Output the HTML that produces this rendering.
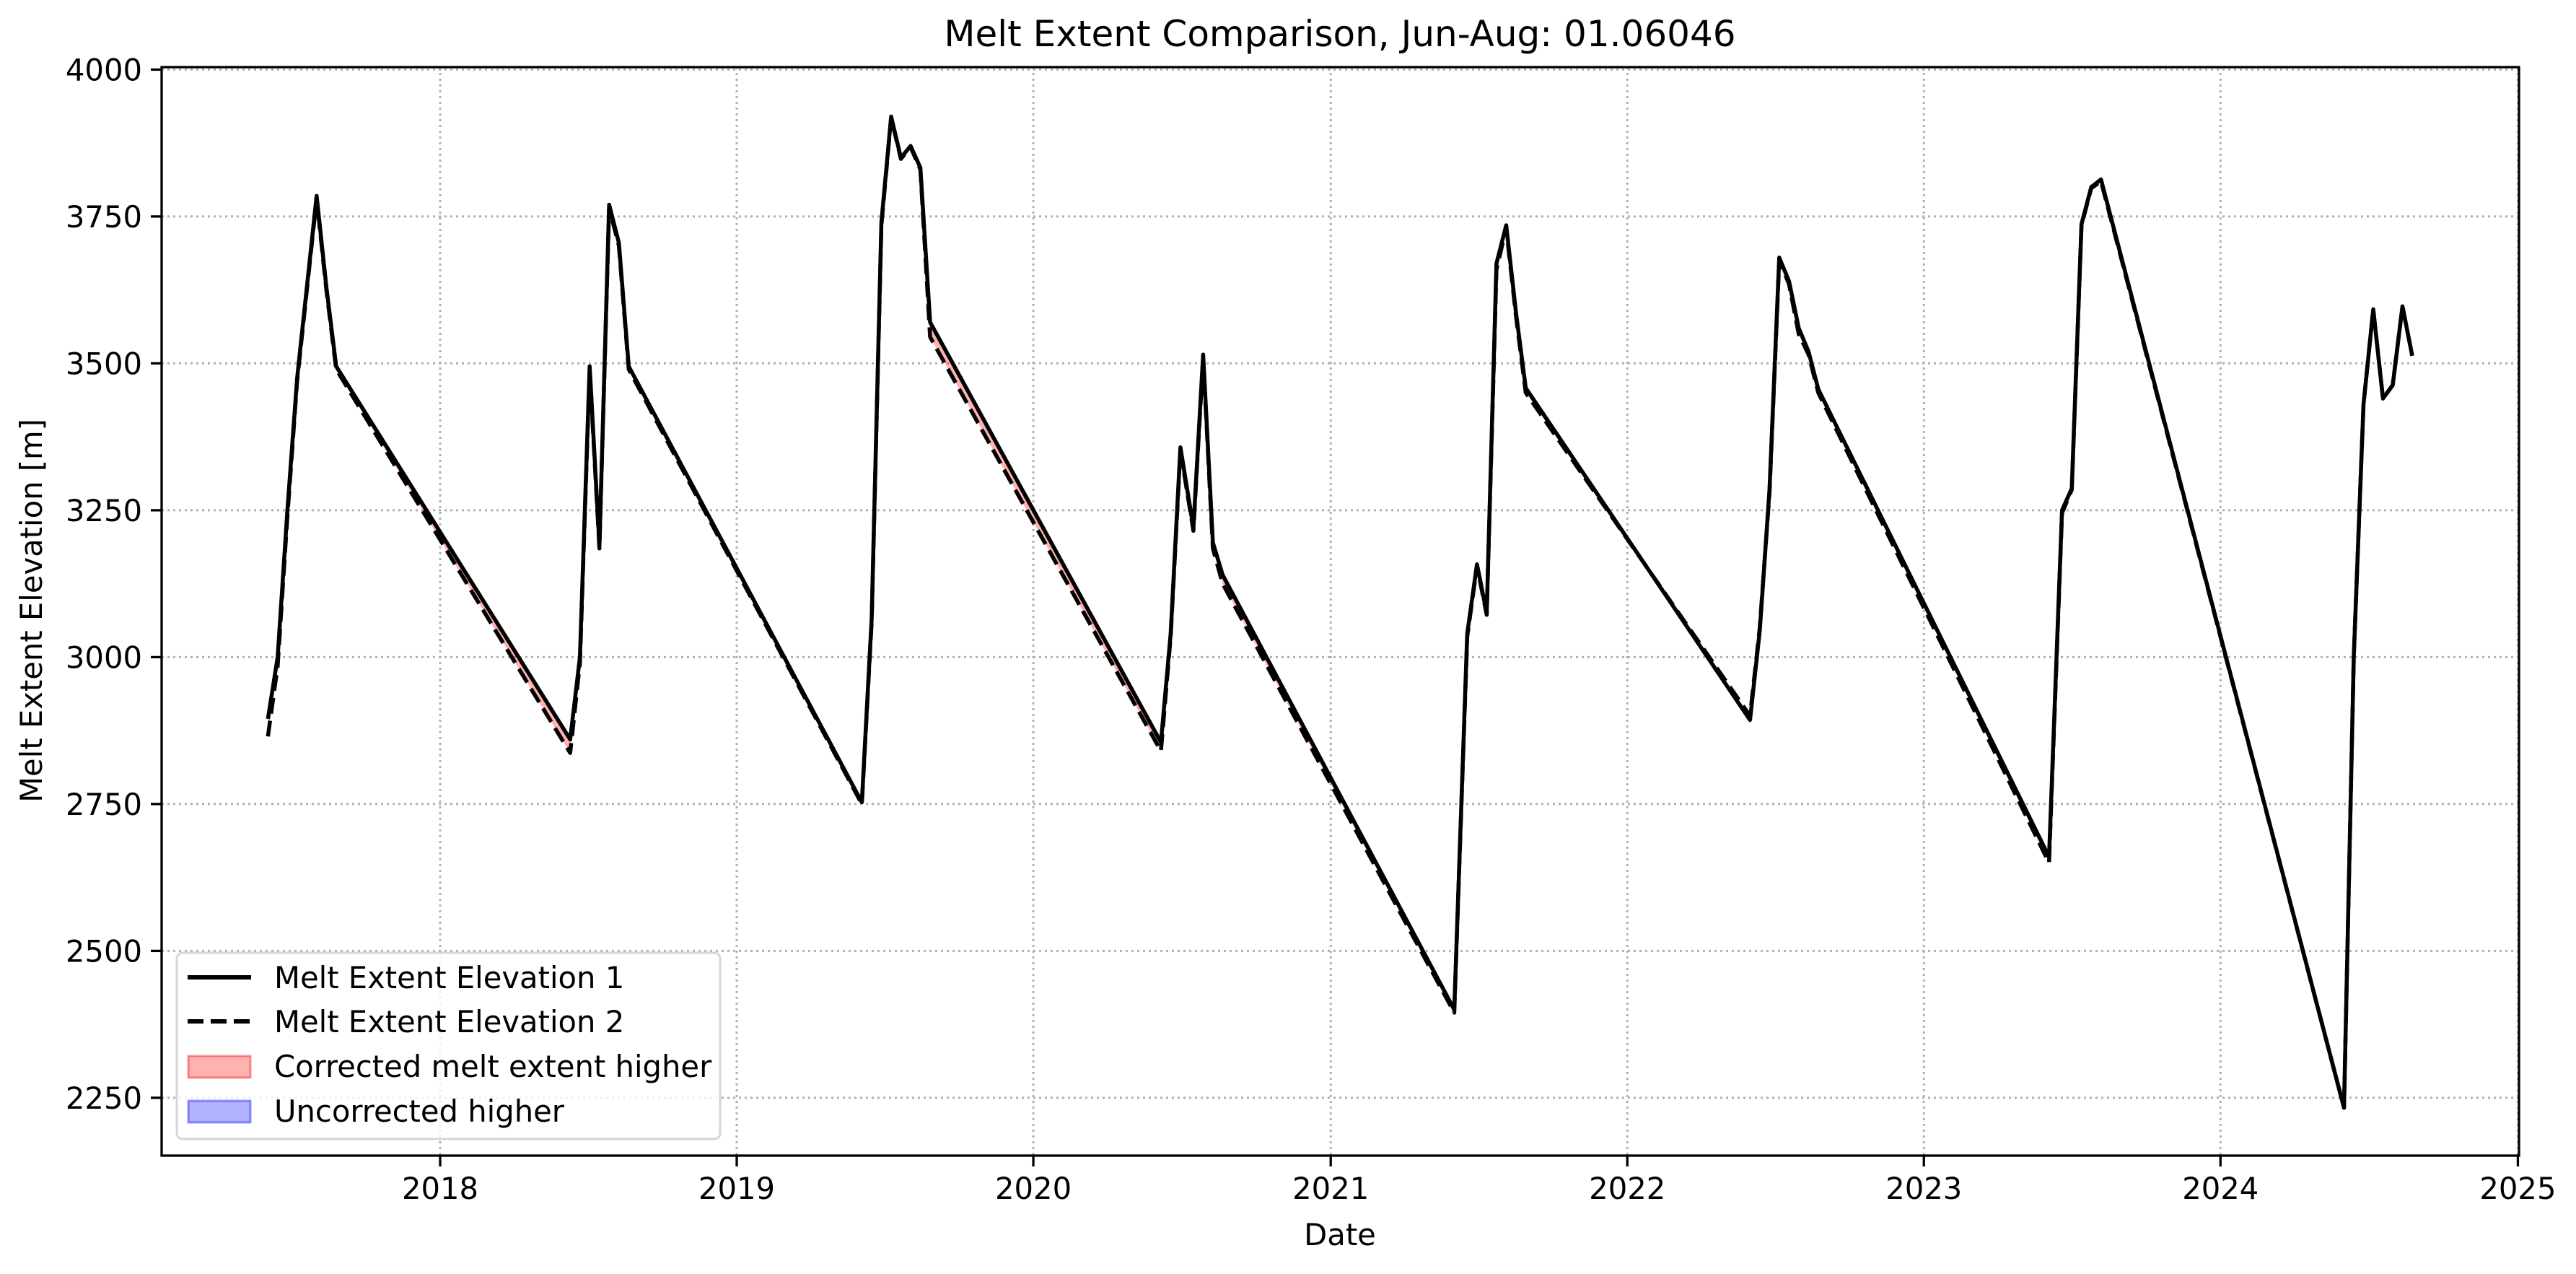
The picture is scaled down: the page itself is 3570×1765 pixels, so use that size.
<!DOCTYPE html>
<html><head><meta charset="utf-8"><style>
html,body{margin:0;padding:0;background:#fff}
svg{display:block;font-family:"DejaVu Sans","Liberation Sans",sans-serif}
</style></head><body>
<svg id="chart" width="3570" height="1765" viewBox="0 0 3570 1765" xmlns="http://www.w3.org/2000/svg">
<text x="1857" y="64" font-size="50" text-anchor="middle">Melt Extent Comparison, Jun-Aug: 01.06046</text>
<text transform="translate(58,846) rotate(-90)" font-size="41.7" text-anchor="middle">Melt Extent Elevation [m]</text>
<text x="1857" y="1725" font-size="41.7" text-anchor="middle">Date</text>
<g id="grid"></g><g id="fills"></g><g id="lines"></g><g id="axes"></g>
<g id="legend">
<rect x="245" y="1320" width="753" height="258" rx="8" fill="#fff" fill-opacity="0.8" stroke="#d6d6d6" stroke-width="3"/>
<line x1="260" y1="1354" x2="348" y2="1354" stroke="#000" stroke-width="6"/>
<text x="380" y="1369" font-size="41.7">Melt Extent Elevation 1</text>
<line x1="260" y1="1415" x2="348" y2="1415" stroke="#000" stroke-width="6" stroke-dasharray="22,10"/>
<text x="380" y="1430" font-size="41.7">Melt Extent Elevation 2</text>
<rect x="261" y="1463" width="86" height="30" fill="#ff0000" fill-opacity="0.3" stroke="#ff0000" stroke-opacity="0.4" stroke-width="3"/>
<text x="380" y="1492" font-size="41.7">Corrected melt extent higher</text>
<rect x="261" y="1525" width="86" height="30" fill="#0000ff" fill-opacity="0.3" stroke="#0000ff" stroke-opacity="0.4" stroke-width="3"/>
<text x="380" y="1554" font-size="41.7">Uncorrected higher</text>
</g>
</svg>
<script>
const dates = ["2017-06-03","2017-06-15","2017-06-27","2017-07-09","2017-08-02","2017-08-14","2017-08-26",
"2018-06-10","2018-06-22","2018-07-04","2018-07-16","2018-07-28","2018-08-09","2018-08-21",
"2019-06-04","2019-06-16","2019-06-28","2019-07-10","2019-07-22","2019-08-03","2019-08-15","2019-08-27",
"2020-06-06","2020-06-18","2020-06-30","2020-07-16","2020-07-28","2020-08-09","2020-08-21",
"2021-06-02","2021-06-18","2021-06-30","2021-07-12","2021-07-24","2021-08-05","2021-08-17","2021-08-29",
"2022-06-01","2022-06-13","2022-06-25","2022-07-07","2022-07-19","2022-07-31","2022-08-12","2022-08-24",
"2023-06-04","2023-06-20","2023-07-02","2023-07-14","2023-07-26","2023-08-07",
"2024-06-01","2024-06-13","2024-06-25","2024-07-07","2024-07-19","2024-07-31","2024-08-12","2024-08-24"];
const elevation1 = [2895,3000,3250,3475,3785,3630,3495,
2860,3000,3495,3190,3770,3705,3495,
2753,3065,3740,3920,3850,3870,3833,3570,
2855,3040,3357,3220,3515,3195,3140,
2400,3040,3158,3075,3670,3735,3586,3458,
2893,3045,3285,3680,3640,3560,3520,3456,
2660,3250,3287,3737,3800,3813,
2233,3000,3430,3592,3440,3463,3597,3513];
const elevation2 = [2865,2985,3240,3470,3780,3625,3490,
2837,2990,3490,3185,3765,3700,3490,
2750,3060,3735,3918,3848,3868,3830,3545,
2840,3035,3352,3215,3510,3185,3125,
2395,3035,3155,3072,3660,3730,3580,3450,
2900,3050,3280,3675,3635,3550,3515,3450,
2650,3245,3285,3735,3798,3810,
2233,3000,3430,3592,3440,3463,3597,3513];
const yTicks = [2250,2500,2750,3000,3250,3500,3750,4000];
const xTicks = [2018,2019,2020,2021,2022,2023,2024,2025];

const NS="http://www.w3.org/2000/svg";
const L=224,R=3491,T=93,B=1601;
const x0=Date.UTC(2018,0,1), pxPerDay=1.1261;
function xs(d){const t=(typeof d==="number")?Date.UTC(d,0,1):Date.parse(d+"T00:00:00Z");return 610+(t-x0)/86400000*pxPerDay;}
function ys(v){return 96.4+(4000-v)*(203.5/250);}
function mk(tag,attrs,parent){const e=document.createElementNS(NS,tag);for(const k in attrs)e.setAttribute(k,attrs[k]);parent.appendChild(e);return e;}
const grid=document.getElementById('grid'),axes=document.getElementById('axes'),lines=document.getElementById('lines'),fills=document.getElementById('fills');
yTicks.forEach(v=>{const y=ys(v);
 const g=mk('line',{x1:L,x2:R,y1:y,y2:y,stroke:'#b0b0b0','stroke-width':3,'stroke-dasharray':'3,5'},grid);
 
 
 const t=mk('line',{x1:L-15,x2:L,y1:y,y2:y,stroke:'#000','stroke-width':3.3},axes);
 
 
 const tx=mk('text',{x:L-27,y:y+15,'font-size':41.7,'text-anchor':'end'},axes);tx.textContent=v;
 
 
});
xTicks.forEach(yr=>{const x=xs(yr);
 const g=mk('line',{x1:x,x2:x,y1:T,y2:B,stroke:'#b0b0b0','stroke-width':3,'stroke-dasharray':'3,5'},grid);
 
 
 const t=mk('line',{x1:x,x2:x,y1:B,y2:B+15,stroke:'#000','stroke-width':3.3},axes);
 
 
 const tx=mk('text',{x:x,y:B+60,'font-size':41.7,'text-anchor':'middle'},axes);tx.textContent=yr;
 
 
});
const fr=mk('rect',{x:L,y:T,width:R-L,height:B-T,fill:'none',stroke:'#000','stroke-width':3.3},axes);


// fill between series
for(let i=0;i<dates.length-1;i++){
 const a=elevation1[i],b=elevation2[i],c=elevation1[i+1],d=elevation2[i+1];
 if(a===b&&c===d)continue;
 const col=(b+d)>(a+c)?'#ff0000':'#ff0000';
 const p=mk('polygon',{points:`${xs(dates[i])},${ys(a)} ${xs(dates[i+1])},${ys(c)} ${xs(dates[i+1])},${ys(d)} ${xs(dates[i])},${ys(b)}`,fill:col,'fill-opacity':0.3},fills);
 
 
}
function path(arr){return arr.map((v,i)=>(i?'L':'M')+xs(dates[i]).toFixed(1)+','+ys(v).toFixed(1)).join(' ');}
const l2=mk('path',{d:path(elevation2),fill:'none',stroke:'#000','stroke-width':5.5,'stroke-dasharray':'22,10','stroke-linejoin':'round'},lines);


const l1=mk('path',{d:path(elevation1),fill:'none',stroke:'#000','stroke-width':5.5,'stroke-linejoin':'round'},lines);


</script>
</body></html>
